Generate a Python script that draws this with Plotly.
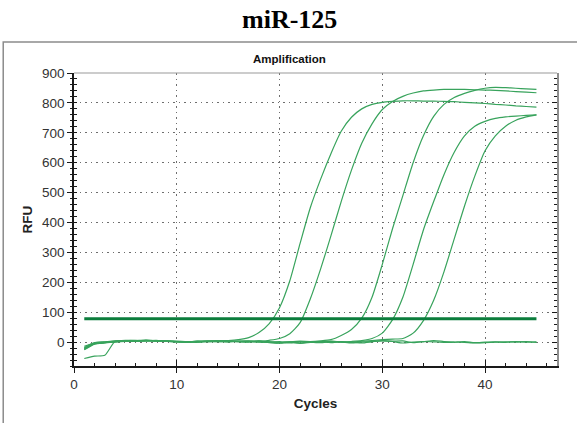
import plotly.graph_objects as go

# ---- data: RFU per cycle (cycles 1..45) ----
cycles = list(range(1, 46))

well_a = [-18, -2, 0, 3, 2, 4, 5, 3, 2, 1, 0, 2, 3, 4, 5, 8, 15, 32, 62, 115,
          205, 330, 450, 545, 630, 705, 752, 780, 795, 802, 805, 807, 807, 806, 806,
          805, 804, 802, 800, 798, 795, 793, 790, 788, 786]
well_b = [-22, -4, -1, 2, 4, 3, 6, 5, 3, 1, 2, 0, 2, 3, 1, 3, 4, 2, 6, 12,
          28, 65, 145, 245, 355, 470, 575, 665, 730, 778, 805, 822, 833, 840, 843,
          845, 845, 845, 844, 843, 842, 840, 838, 836, 834]
well_c = [-14, -3, 1, 4, 6, 5, 7, 4, 2, 3, 1, 3, 1, 2, 4, 2, 0, 3, 1, -2,
          1, 3, 2, 4, 8, 22, 42, 80, 150, 260, 380, 490, 600, 690, 755,
          795, 818, 832, 842, 849, 852, 851, 849, 847, 845]
well_d = [-20, -5, -2, 2, 3, 5, 4, 6, 3, 2, 0, 1, 3, 2, 1, 3, 2, 0, -1, -3,
          0, 2, -1, 1, 3, 0, 2, 5, 12, 30, 75, 150, 260, 375, 470,
          560, 635, 690, 722, 738, 748, 753, 756, 758, 760]
well_e = [-26, -7, -3, 0, 2, 4, 6, 5, 4, 2, 1, 0, 2, 4, 3, 1, 2, 4, 0, -2,
          -3, 1, 0, -2, 2, 1, -1, 3, 5, 8, 10, 12, 30, 72, 140,
          235, 345, 455, 555, 640, 690, 722, 742, 753, 760]
ntc_1 = [-55, -47, -44, 3, 5, 6, 4, 5, 3, 2, 1, 3, 2, 4, 3, 2, 1, 3, -2, -3,
         1, -4, -1, 2, 1, 0, -3, 0, 2, 4, 3, 4, -2, 1, 5, 2, 0, -1, -3, -2,
         0, 1, 0, 2, -1]
ntc_2 = [-24, -6, -2, 1, 3, 2, 5, 3, 4, 1, 0, 2, 4, 1, 3, 2, 3, 1, 0, 2,
         -1, -3, 0, 1, -2, 2, 0, -3, 1, 5, 2, -3, 0, 2, 1, -1, 0, 2, -2, 0,
         1, -1, 2, 0, 1]

threshold_rfu = 78
threshold_span = [1, 45]

x_ticks = [0, 10, 20, 30, 40]
y_ticks = [0, 100, 200, 300, 400, 500, 600, 700, 800, 900]

# ---- page geometry ----
W, H = 577, 423
ML, MR, MT, MB = 73.5, 20.3, 72.5, 57.3
PW, PH = W - ML - MR, H - MT - MB


def px(x):
    return (x - ML) / PW


def py(y):
    return (H - MB - y) / PH


curve_color = "#38a35c"
thr_color = "#0b7d3c"
font_family = "Liberation Sans, Arial, sans-serif"
ink = "#1a1a1a"

fig = go.Figure()
for series in [ntc_1, ntc_2, well_e, well_d, well_c, well_b, well_a]:
    fig.add_trace(go.Scatter(x=cycles, y=series, mode="lines",
                             line=dict(color=curve_color, width=1.2,
                                       shape="spline", smoothing=0.6),
                             showlegend=False, hoverinfo="skip"))

fig.add_trace(go.Scatter(x=threshold_span, y=[threshold_rfu] * 2, mode="lines",
                         line=dict(color=thr_color, width=3.2),
                         showlegend=False, hoverinfo="skip"))

grid = dict(showgrid=True, gridcolor="#6e6e6e", gridwidth=1.2,
            griddash="1.5px,4px")
tickfont = dict(family=font_family, size=13.5, color="#333333")

fig.update_layout(
    width=W, height=H,
    margin=dict(l=ML, r=MR, t=MT, b=MB, pad=0),
    paper_bgcolor="white", plot_bgcolor="white",
    xaxis=dict(range=[0, 47], tickvals=x_ticks, ticks="outside", ticklen=5,
               tickwidth=1.3, tickcolor=ink, showline=True, linecolor=ink,
               linewidth=1.5, zeroline=False, tickfont=tickfont,
               title=dict(text="<b>Cycles</b>", standoff=8,
                          font=dict(family=font_family, size=13.5, color="#222")),
               **grid),
    xaxis2=dict(range=[0, 47], overlaying="x", anchor="y", side="bottom",
                tickvals=x_ticks, ticks="inside", ticklen=6, tickwidth=1.3,
                tickcolor=ink, showticklabels=False, showgrid=False,
                zeroline=False, showline=False,
                minor=dict(dtick=2, tick0=0, ticks="inside", ticklen=3.5,
                           tickwidth=1.1, tickcolor=ink)),
    yaxis=dict(range=[-80, 900], tickvals=y_ticks, ticks="outside", ticklen=5,
               tickwidth=1.3, tickcolor=ink, showline=True, linecolor=ink,
               linewidth=1.5, zeroline=False, tickfont=tickfont,
               minor=dict(dtick=20, tick0=0, ticks="outside", ticklen=2.5,
                          tickwidth=1, tickcolor=ink, showgrid=False),
               title=dict(text="<b>RFU</b>", standoff=6,
                          font=dict(family=font_family, size=13.5, color="#222")),
               **grid),
    yaxis2=dict(range=[-80, 900], overlaying="y", anchor="x", side="left",
                tickvals=y_ticks, ticks="inside", ticklen=3, tickwidth=1.3,
                tickcolor=ink, showticklabels=False, showgrid=False,
                zeroline=False, showline=False,
                minor=dict(dtick=20, tick0=0, ticks="inside", ticklen=2.5,
                           tickwidth=1, tickcolor=ink)),
    yaxis3=dict(range=[-80, 900], overlaying="y", anchor="x", side="right",
                tickvals=y_ticks, ticks="inside", ticklen=5, tickwidth=1.3,
                tickcolor=ink, showticklabels=False, showgrid=False,
                zeroline=False, showline=True, linecolor="#8f8f8f", linewidth=2,
                minor=dict(dtick=20, tick0=0, ticks="inside", ticklen=3,
                           tickwidth=1, tickcolor=ink)),
    shapes=[
        # outer panel frame
        dict(type="rect", xref="paper", yref="paper",
             x0=px(2.7), x1=px(640), y0=py(41.5), y1=py(480),
             line=dict(color="#8c8c8c", width=1.5), fillcolor="rgba(0,0,0,0)",
             layer="below"),
        # top edge of the plotting box
        dict(type="line", xref="paper", yref="paper", x0=0, x1=1, y0=1, y1=1,
             line=dict(color="#9a9a9a", width=1.2)),
    ],
    annotations=[
        dict(text="<b>miR-125</b>", xref="paper", yref="paper",
             x=px(289), y=py(19), xanchor="center", yanchor="middle",
             showarrow=False,
             font=dict(family="Liberation Serif, Times New Roman, serif",
                       size=26, color="#000")),
        dict(text="<b>Amplification</b>", xref="paper", yref="paper",
             x=px(289), y=py(58), xanchor="center", yanchor="middle",
             showarrow=False,
             font=dict(family=font_family, size=11.5, color="#111")),
    ],
)

# invisible traces so the overlay axes are drawn
fig.add_trace(go.Scatter(x=[None], y=[None], xaxis="x2", yaxis="y2",
                         showlegend=False, hoverinfo="skip"))
fig.add_trace(go.Scatter(x=[None], y=[None], xaxis="x", yaxis="y3",
                         showlegend=False, hoverinfo="skip"))

fig.write_html("out.html")
